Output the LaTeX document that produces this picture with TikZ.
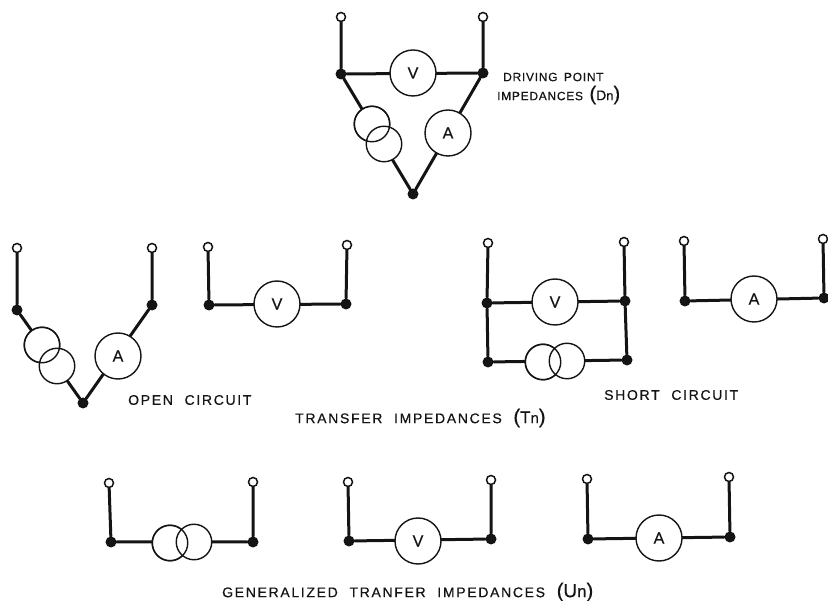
\documentclass[tikz,border=0pt]{standalone}
\usepackage{fontspec}
\setmainfont{Liberation Sans}
\newfontfamily\labA[LetterSpace=6,WordSpace=1.6,FakeBold=0.5]{Liberation Sans}
\newfontfamily\labB[LetterSpace=12,WordSpace=2.1,FakeBold=0.5]{Liberation Sans}
\newfontfamily\labM[FakeBold=0.5]{Liberation Sans}
\newcommand{\idx}[4]{{\fontsize{20}{20}\selectfont(}{\fontsize{#3}{#3}\selectfont #1}{\fontsize{#4}{#4}\selectfont #2}{\fontsize{20}{20}\selectfont)}}
\colorlet{ink}{black!92}
\tikzset{
  wire/.style={line width=3pt,line cap=round,ink},
  term/.style={circle,draw=ink,fill=white,line width=1.5pt,inner sep=0pt,minimum size=9pt},
  junc/.style={circle,fill=ink,inner sep=0pt,minimum size=11pt},
  meter/.style={circle,draw=ink,fill=white,line width=1.4pt,inner sep=0pt,minimum size=46pt,font=\labM\fontsize{16}{16}\selectfont,text=ink},
  coil/.style={circle,draw=ink,fill=white,line width=1.4pt,inner sep=0pt,minimum size=35.5pt},
  coilring/.style={line width=1.4pt,ink},
  labsmall/.style={font=\labA\fontsize{12}{12}\selectfont,text=ink,inner sep=0pt,anchor=west},
  labbig/.style={font=\labB\fontsize{14}{14}\selectfont,text=ink,inner sep=0pt,anchor=west}
}
\begin{document}
\begin{tikzpicture}[x=1pt,y=-1pt]
\useasboundingbox (0,0) rectangle (828,601);
% top
\node[term] (t1) at (341,17) {}; \node[term] (t2) at (483,17) {};
\node[junc] (j1) at (341,74) {}; \node[junc] (j2) at (483,73) {}; \node[junc] (j3) at (413,194) {};
\draw[wire] (t1)--(j1) (t2)--(j2) (j1)--(j2) (j1)--(j3) (j2)--(j3);
\node[meter] (mv) at (413,73) {V};
\node[meter] (ma) at (448,133) {A};
\node[coil] (c1) at (372,124) {};
\node[coil] (c2) at (384,144) {};
\draw[coilring] (c1) circle[radius=17.75pt];
\node[labsmall] (l1) at (503,77) {DRIVING POINT};
\node[labsmall] (l2) at (497,95) {IMPEDANCES \idx{D}{n}{14}{13}};
% open 1
\node[term] (t3) at (17,248) {}; \node[term] (t4) at (152,248) {};
\node[junc] (j4) at (17,310) {}; \node[junc] (j5) at (152,305) {}; \node[junc] (j6) at (83,403) {};
\draw[wire] (t3)--(j4) (t4)--(j5) (j4)--(j6) (j5)--(j6);
\node[meter] (ma2) at (118,356) {A};
\node[coil] (c3) at (42,345) {};
\node[coil] (c4) at (57,366) {};
\draw[coilring] (c3) circle[radius=17.75pt];
% open 2
\node[term] (t5) at (208,247) {}; \node[term] (t6) at (347,245) {};
\node[junc] (j7) at (209,305) {}; \node[junc] (j8) at (346,304) {};
\draw[wire] (t5)--(j7) (t6)--(j8) (j7)--(j8);
\node[meter] (mv2) at (277,304) {V};
\node[labbig] (l3) at (128,400) {OPEN CIRCUIT};
% short 1
\node[term] (t7) at (488,243) {}; \node[term] (t8) at (624,242) {};
\node[junc] (j9) at (487,303) {}; \node[junc] (j10) at (625,301) {};
\node[junc] (j11) at (488,362) {}; \node[junc] (j12) at (627,360) {};
\draw[wire] (t7)--(j9) (t8)--(j10) (j9)--(j10) (j9)--(j11) (j10)--(j12) (j11)--(j12);
\node[meter] (mv3) at (555,302) {V};
\node[coil] (c5) at (543,362) {};
\node[coil] (c6) at (567,361) {};
\draw[coilring] (c5) circle[radius=17.75pt];
% short 2
\node[term] (t9) at (684,241) {}; \node[term] (t10) at (823,239) {};
\node[junc] (j13) at (685,301) {}; \node[junc] (j14) at (824,298) {};
\draw[wire] (t9)--(j13) (t10)--(j14) (j13)--(j14);
\node[meter] (ma3) at (754,299) {A};
\node[labbig] (l4) at (604,395) {SHORT CIRCUIT};
\node[labbig] (l5) at (295,418) {TRANSFER IMPEDANCES \idx{T}{n}{17}{15}};
% bottom
\node[term] (t11) at (109,483) {}; \node[term] (t12) at (253,482) {};
\node[junc] (j15) at (111,542) {}; \node[junc] (j16) at (253,542) {};
\draw[wire] (t11)--(j15) (t12)--(j16) (j15)--(j16);
\node[coil] (c7) at (170,543) {};
\node[coil] (c8) at (194,542) {};
\draw[coilring] (c7) circle[radius=17.75pt];
\node[term] (t13) at (348,482) {}; \node[term] (t14) at (491,480) {};
\node[junc] (j17) at (349,541) {}; \node[junc] (j18) at (491,539) {};
\draw[wire] (t13)--(j17) (t14)--(j18) (j17)--(j18);
\node[meter] (mv4) at (418,541) {V};
\node[term] (t15) at (587,479) {}; \node[term] (t16) at (729,477) {};
\node[junc] (j19) at (588,539) {}; \node[junc] (j20) at (730,537) {};
\draw[wire] (t15)--(j19) (t16)--(j20) (j19)--(j20);
\node[meter] (ma4) at (659,538) {A};
\node[labbig] (l6) at (222,592) {GENERALIZED TRANFER IMPEDANCES \idx{U}{n}{19}{17}};
\end{tikzpicture}
\end{document}
